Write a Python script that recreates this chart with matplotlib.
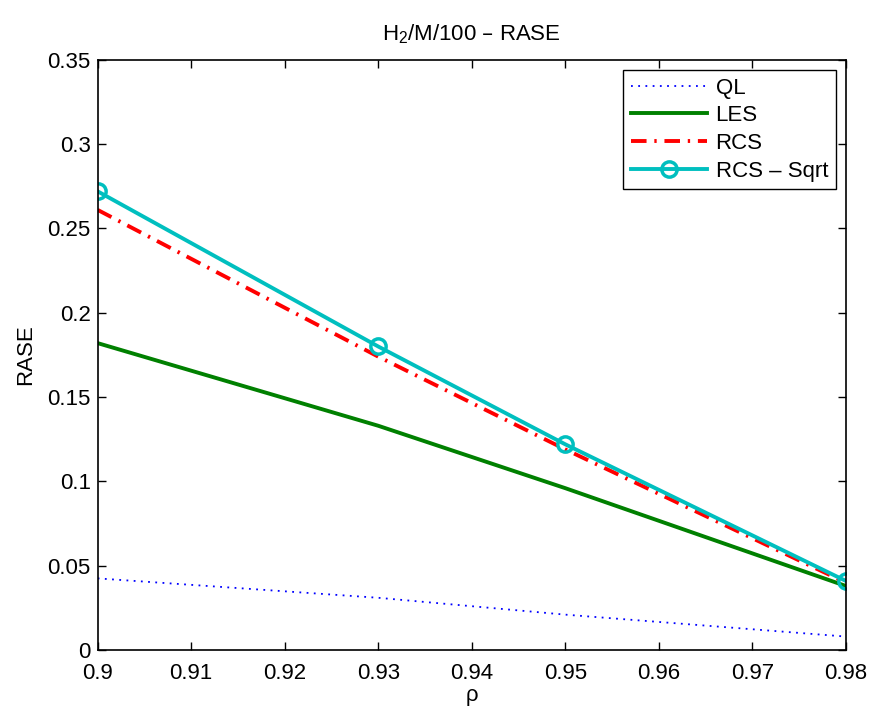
import matplotlib
matplotlib.use('Agg')
import matplotlib.pyplot as plt

plt.rcParams['font.family'] = ['Liberation Sans', 'DejaVu Sans']
plt.rcParams['mathtext.default'] = 'regular'

rho = [0.90, 0.93, 0.95, 0.98]
ql = [0.0425, 0.031, 0.021, 0.008]
les = [0.182, 0.133, 0.096, 0.038]
rcs = [0.261, 0.174, 0.119, 0.040]
rcs_sqrt = [0.272, 0.180, 0.122, 0.041]

fig = plt.figure(figsize=(8.72, 7.12), dpi=100)
ax = fig.add_axes([0.112, 0.087, 0.858, 0.829])

ax.plot(rho, ql, color='blue', linestyle=(0, (1, 3)), linewidth=1.3, label='QL')
ax.plot(rho, les, color='green', linestyle='-', linewidth=2.8, label='LES')
ax.plot(rho, rcs, color='red', linestyle=(0, (4, 2, 0.6, 2)), linewidth=2.8, label='RCS')
ax.plot(rho, rcs_sqrt, color='#00bfbf', linestyle='-', linewidth=2.8, marker='o',
        markersize=11, markerfacecolor='none', markeredgewidth=2.5, label='RCS \u2013 Sqrt')

ax.set_xlim(0.9, 0.98)
ax.set_ylim(0, 0.35)
ax.set_xticks([0.9, 0.91, 0.92, 0.93, 0.94, 0.95, 0.96, 0.97, 0.98])
ax.set_xticklabels(['0.9', '0.91', '0.92', '0.93', '0.94', '0.95', '0.96', '0.97', '0.98'])
ax.set_yticks([0, 0.05, 0.1, 0.15, 0.2, 0.25, 0.3, 0.35])
ax.set_yticklabels(['0', '0.05', '0.1', '0.15', '0.2', '0.25', '0.3', '0.35'])
ax.tick_params(direction='in', top=True, right=True, labelsize=16, length=6, width=1)
ax.tick_params(axis='y', pad=5)
ax.tick_params(axis='x', pad=9)
for s in ax.spines.values():
    s.set_linewidth(1.2)

ax.set_xlabel('\u03c1', fontsize=16, labelpad=1)
ax.set_ylabel('RASE', fontsize=16, labelpad=8)
ax.set_title('H$_2$/M/100 \u2013 RASE', fontsize=16, pad=14)

leg = ax.legend(loc='upper right', fontsize=16, fancybox=False, framealpha=1,
                edgecolor='black', borderaxespad=0.45, handlelength=3.4,
                labelspacing=0.3, borderpad=0.35, handletextpad=0.4)
leg.get_frame().set_linewidth(1.0)

fig.savefig('out.png', dpi=100)
